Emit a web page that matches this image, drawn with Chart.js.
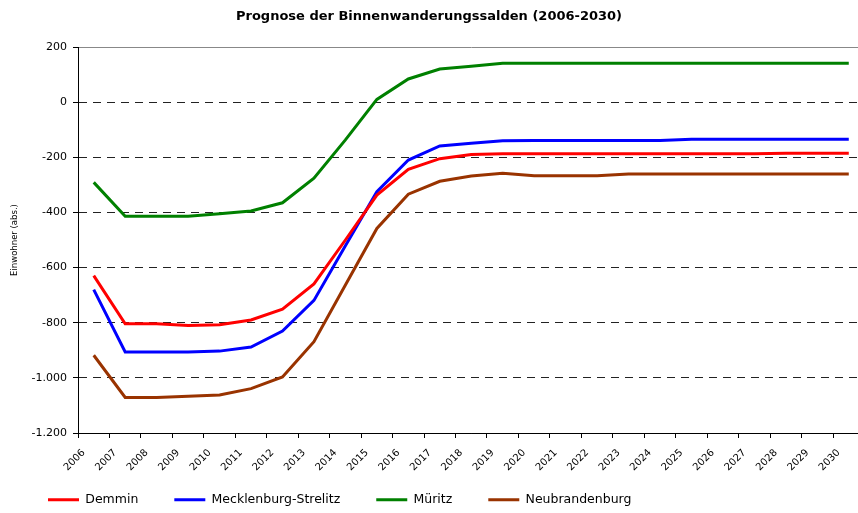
<!DOCTYPE html>
<html>
<head>
<meta charset="utf-8">
<script src="https://cdn.jsdelivr.net/npm/chart.js@4.4.1/dist/chart.umd.min.js"></script>
<style>
  html, body { margin: 0; padding: 0; background: #fff; overflow: hidden; }
  #wrap { width: 870px; height: 513px; }
</style>
</head>
<body>
<div id="wrap"><canvas id="chart" width="870" height="513"></canvas></div>
<script>
const years = ["2006", "2007", "2008", "2009", "2010", "2011", "2012", "2013", "2014", "2015",
  "2016", "2017", "2018", "2019", "2020", "2021", "2022", "2023", "2024", "2025",
  "2026", "2027", "2028", "2029", "2030"];

const demmin = [-629, -804, -804, -810, -807, -790, -751, -659, -500, -337,
  -244, -205, -190, -187, -187, -187, -187, -187, -187, -187,
  -187, -187, -185, -185, -185];
const mecklenburgStrelitz = [-680, -906, -906, -906, -903, -888, -830, -719, -521, -325,
  -210, -159, -149, -140, -139, -139, -139, -139, -139, -135,
  -135, -135, -135, -135, -135];
const mueritz = [-291, -414, -414, -414, -405, -395, -365, -276, -137, 10,
  84, 120, 130, 141, 141, 141, 141, 141, 141, 141,
  141, 141, 141, 141, 141];
const neubrandenburg = [-918, -1071, -1071, -1067, -1062, -1039, -997, -869, -663, -458,
  -334, -287, -268, -258, -267, -267, -267, -261, -261, -261,
  -261, -261, -261, -261, -261];

const seriesNames = ["Demmin", "Mecklenburg-Strelitz", "Müritz", "Neubrandenburg"];
const seriesColors = ["#ff0000", "#0000ff", "#008000", "#993300"];
const seriesValues = [demmin, mecklenburgStrelitz, mueritz, neubrandenburg];

const fontFamily = "'DejaVu Sans', Verdana, sans-serif";

function fmtDe(v) {
  const s = Math.abs(v).toString().replace(/\B(?=(\d{3})+(?!\d))/g, ".");
  return (v < 0 ? "-" : "") + s;
}

// title centred on the visible window, legend nudged, x labels not clipped
const nudge = {
  id: "nudge",
  afterLayout(chart) {
    if (chart.titleBlock) {
      chart.titleBlock.left = 0;
      chart.titleBlock.right = 858;
      chart.titleBlock.width = 858;
    }
    if (chart.legend) {
      chart.legend.left += 12;
      chart.legend.right += 12;
      chart.legend.top += 3;
      chart.legend.bottom += 3;
    }
    chart.scales.x.bottom = chart.height;
  }
};

new Chart(document.getElementById("chart"), {
  type: "line",
  data: {
    labels: years,
    datasets: seriesNames.map((name, i) => ({
      label: name,
      data: seriesValues[i],
      borderColor: seriesColors[i],
      backgroundColor: seriesColors[i],
      borderWidth: 3,
      pointRadius: 0,
      tension: 0,
      fill: false
    }))
  },
  options: {
    responsive: false,
    animation: false,
    devicePixelRatio: 1,
    layout: { padding: { left: 0, right: 5.5, top: 0, bottom: 0 } },
    plugins: {
      title: {
        display: true,
        text: "Prognose der Binnenwanderungssalden (2006-2030)",
        color: "#000",
        font: { family: fontFamily, size: 13, weight: "bold" },
        padding: { top: 9, bottom: 22.4 }
      },
      legend: {
        position: "bottom",
        align: "start",
        labels: {
          color: "#000",
          font: { family: fontFamily, size: 12.5 },
          boxWidth: 31,
          boxHeight: 3,
          padding: 36,
          generateLabels: (chart) =>
            Chart.defaults.plugins.legend.labels.generateLabels(chart).map((l) => ({ ...l, lineWidth: 0 }))
        }
      },
      tooltip: { enabled: false }
    },
    scales: {
      x: {
        type: "category",
        position: "bottom",
        offset: true,
        grid: {
          display: true,
          offset: true,
          drawOnChartArea: false,
          drawTicks: true,
          tickLength: 5,
          color: "#000",
          tickColor: "#000"
        },
        border: { display: true, color: "#000", width: 1 },
        ticks: {
          autoSkip: false,
          maxRotation: 45,
          minRotation: 45,
          padding: 9,
          labelOffset: -10,
          color: "#000",
          font: { family: fontFamily, size: 10 }
        },
        afterFit: (scale) => { scale.height = 21.5; }
      },
      xTop: {
        type: "category",
        position: "top",
        offset: true,
        grid: { display: false, drawTicks: false },
        ticks: { display: false },
        border: { display: true, color: "#888", width: 1 }
      },
      y: {
        min: -1200,
        max: 200,
        ticks: {
          stepSize: 200,
          padding: 6,
          color: "#000",
          font: { family: fontFamily, size: 11 },
          callback: (v) => fmtDe(v)
        },
        grid: {
          color: (ctx) => (ctx.tick && ctx.tick.value === 200 ? "rgba(0,0,0,0)" : "#222"),
          lineWidth: 1,
          drawTicks: true,
          tickLength: 5,
          tickColor: "#000"
        },
        border: { display: true, color: "#000", width: 1, dash: [8, 6] },
        title: {
          display: true,
          text: "Einwohner (abs.)",
          color: "#000",
          font: { family: fontFamily, size: 8.5 },
          padding: { top: 10, bottom: 0 }
        },
        afterFit: (scale) => { scale.width = 78; }
      }
    }
  },
  plugins: [nudge]
});
</script>
</body>
</html>
